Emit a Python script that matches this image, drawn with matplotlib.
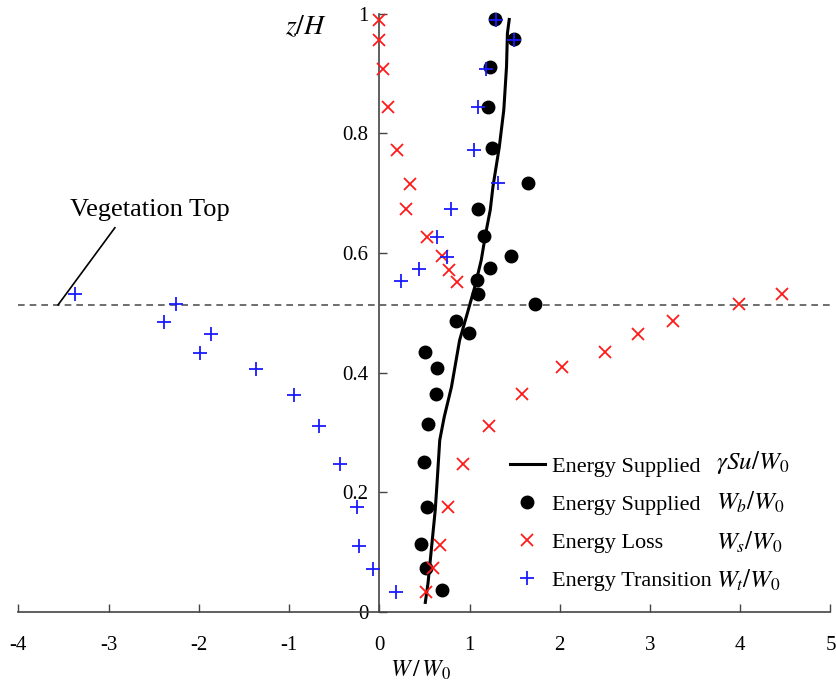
import matplotlib
matplotlib.use("Agg")
import matplotlib.pyplot as plt
from matplotlib.lines import Line2D

plt.rcParams['font.family'] = ['Liberation Serif', 'DejaVu Serif']
plt.rcParams['mathtext.fontset'] = 'stix'

# Energy supplied gamma*S*u/W0 (line)
line_z = [0.016, 0.048, 0.109, 0.170, 0.215, 0.287, 0.326, 0.376, 0.454, 0.496,
          0.544, 0.588, 0.633, 0.672, 0.711, 0.777, 0.839, 0.911, 0.967, 0.990]
line_w = [0.51, 0.54, 0.58, 0.62, 0.64, 0.67, 0.72, 0.80, 0.89, 0.97,
          1.06, 1.13, 1.18, 1.23, 1.26, 1.33, 1.38, 1.41, 1.42, 1.44]

# Wb/W0 (dots)
wb_z = [0.991, 0.957, 0.910, 0.844, 0.775, 0.716, 0.674, 0.629, 0.595, 0.574,
        0.554, 0.531, 0.515, 0.487, 0.466, 0.435, 0.407, 0.365, 0.314, 0.250,
        0.176, 0.113, 0.073, 0.036]
wb_w = [1.28, 1.49, 1.23, 1.20, 1.245, 1.65, 1.09, 1.16, 1.46, 1.23,
        1.08, 1.09, 1.73, 0.85, 0.99, 0.51, 0.636, 0.625, 0.543, 0.495,
        0.525, 0.46, 0.514, 0.70]

# Ws/W0 (crosses)
ws_z = [0.989, 0.956, 0.908, 0.843, 0.772, 0.715, 0.673, 0.627, 0.594, 0.571,
        0.552, 0.531, 0.514, 0.486, 0.464, 0.434, 0.409, 0.364, 0.311, 0.248,
        0.176, 0.112, 0.073, 0.034]
ws_w = [0.0, 0.0, 0.044, 0.093, 0.20, 0.34, 0.30, 0.525, 0.70, 0.776,
        0.857, 4.46, 3.99, 3.25, 2.87, 2.50, 2.02, 1.585, 1.22, 0.924,
        0.765, 0.67, 0.59, 0.52]

# Wt/W0 (plus)
wt_z = [0.989, 0.956, 0.908, 0.843, 0.772, 0.716, 0.673, 0.627, 0.593, 0.573,
        0.553, 0.531, 0.514, 0.485, 0.464, 0.433, 0.406, 0.363, 0.311, 0.248,
        0.175, 0.111, 0.071, 0.034]
wt_w = [1.29, 1.49, 1.18, 1.09, 1.05, 1.32, 0.80, 0.64, 0.75, 0.44,
        0.24, -3.37, -2.25, -2.39, -1.86, -1.99, -1.37, -0.95, -0.67, -0.44,
        -0.25, -0.22, -0.07, 0.19]

veg_top = 0.513
xticks = [-4, -3, -2, -1, 0, 1, 2, 3, 4, 5]
yticks = [0, 0.2, 0.4, 0.6, 0.8, 1.0]
yticklabels = ['0', '0.2', '0.4', '0.6', '0.8', '1']

fig = plt.figure(figsize=(8.36, 6.89), dpi=100)
ax = fig.add_axes([0.0219, 0.1118, 0.9715, 0.8686])
ax.set_xlim(-4, 5)
ax.set_ylim(0, 1)

ax.axhline(veg_top, color='#555555', lw=1.2, ls=(0, (4, 3)), zorder=1)

ax.plot(line_w, line_z, color='black', lw=2.2, zorder=3, clip_on=False)
ax.plot(wb_w, wb_z, 'o', color='black', ms=9, zorder=4, clip_on=False)
ax.plot(ws_w, ws_z, 'x', color='#ff1a1a', ms=8.5, mew=1.3, zorder=5, clip_on=False)
ax.plot(wt_w, wt_z, '+', color='#1a1aff', ms=9.5, mew=1.3, zorder=6, clip_on=False)

for s in ['top', 'right']:
    ax.spines[s].set_visible(False)
ax.spines['left'].set_position(('data', 0))
ax.spines['left'].set_color('#444444')
ax.spines['bottom'].set_color('#444444')
ax.spines['left'].set_linewidth(1.2)
ax.spines['bottom'].set_linewidth(1.2)

ax.set_xticks(xticks)
ax.set_xticklabels([str(t) for t in xticks])
ax.set_yticks(yticks)
ax.set_yticklabels(yticklabels)
ax.tick_params(axis='both', direction='in', length=6, width=1.0, color='#444444',
               labelsize=15)
ax.tick_params(axis='x', pad=17)
ax.tick_params(axis='y', pad=8)

ax.text(-0.81, 0.977, r'$z/H$', fontsize=20, ha='center', va='center')
ax.text(0.496, -0.097, r'$W\,/\,W_{\mathrm{0}}$', fontsize=17, ha='center',
        va='center', transform=ax.transAxes)

# Vegetation top annotation
ax.plot([-3.56, -2.93], [veg_top, 0.642], color='black', lw=1.2)
ax.text(-3.43, 0.672, 'Vegetation Top', fontsize=19, ha='left', va='center')

handles = [Line2D([], [], color='black', lw=2.2),
           Line2D([], [], marker='o', ls='none', color='black', ms=9),
           Line2D([], [], marker='x', ls='none', color='#ff1a1a', ms=8.5, mew=1.3),
           Line2D([], [], marker='+', ls='none', color='#1a1aff', ms=9.5, mew=1.3)]
names = ['Energy Supplied', 'Energy Supplied', 'Energy Loss', 'Energy Transition']
leg = ax.legend(handles, names, loc='upper left', bbox_to_anchor=(0.594, 0.275),
                frameon=False, fontsize=16, handlelength=1.6, handletextpad=0.32,
                labelspacing=0.79, borderaxespad=0)
math_labels = [r'$\gamma Su/W_0$', r'$W_b/W_0$', r'$W_s/W_0$', r'$W_t/W_0$']
ys = [463, 502, 542, 580]
for lab, py in zip(math_labels, ys):
    fig.text(716 / 836, 1 - py / 689, lab, fontsize=18, ha='left', va='center')

fig.savefig('out.png', dpi=100)
